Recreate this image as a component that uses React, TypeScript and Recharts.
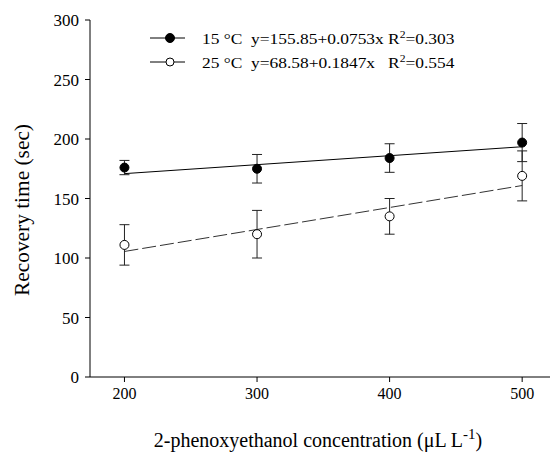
import { ComposedChart, ErrorBar, Line, Scatter, XAxis, YAxis } from "recharts";

const conc = [200, 300, 400, 500];
const rec15 = [176, 175, 184, 197];
const err15 = [6, 12, 12, 16];
const rec25 = [111, 120, 135, 169];
const err25 = [17, 20, 15, 21];
const fitX = [200, 500];
const fit15 = [170.9, 193.5];
const fit25 = [105.5, 160.9];
const yTicks = [0, 50, 100, 150, 200, 250, 300];
const xTicks = [200, 300, 400, 500];

const pts15 = conc.map((x, i) => ({ x, y: rec15[i], err: err15[i] }));
const pts25 = conc.map((x, i) => ({ x, y: rec25[i], err: err25[i] }));
const line15 = fitX.map((x, i) => ({ x, y: fit15[i] }));
const line25 = fitX.map((x, i) => ({ x, y: fit25[i] }));

const serif = "'Liberation Serif', 'Times New Roman', serif";

function Dot(props: any) {
  const { cx, cy, filled } = props;
  return <circle cx={cx} cy={cy} r={4.5} fill={filled ? "#000" : "#fff"} stroke="#000" strokeWidth={1} />;
}

function XTick(props: any) {
  const { x, y, payload } = props;
  return (
    <text x={x} y={y + 15} textAnchor="middle" style={{ fontFamily: serif, fontSize: 16 }} fill="#000">
      {payload.value}
    </text>
  );
}

function YTick(props: any) {
  const { x, y, payload } = props;
  return (
    <text x={x - 4} y={y + 6} textAnchor="end" style={{ fontFamily: serif, fontSize: 17 }} fill="#000">
      {payload.value}
    </text>
  );
}

function XTitle(props: any) {
  const { viewBox } = props;
  const cx = viewBox.x + viewBox.width / 2;
  return (
    <text x={cx - 2} y={447} textAnchor="middle" style={{ fontFamily: serif, fontSize: 20 }} fill="#000">
      2-phenoxyethanol concentration (μL L
      <tspan style={{ fontSize: 15 }} dy={-8}>-1</tspan>
      <tspan dy={8}>)</tspan>
    </text>
  );
}

function YTitle() {
  return (
    <text x={0} y={0} transform="translate(29, 210) rotate(-90)" textAnchor="middle" textLength={172} lengthAdjust="spacingAndGlyphs" style={{ fontFamily: serif, fontSize: 20 }} fill="#000">
      Recovery time (sec)
    </text>
  );
}

function LegendBox() {
  const rows = [
    { filled: true, label: "15 °C  y=155.85+0.0753x R", r2: "=0.303" },
    { filled: false, label: "25 °C  y=68.58+0.1847x   R", r2: "=0.554" }
  ];
  return (
    <div style={{ position: "absolute", left: 150, top: 26, fontFamily: serif, fontSize: 15, color: "#000" }}>
      {rows.map((row) => (
        <div key={row.label} style={{ display: "flex", alignItems: "center", height: 24 }}>
          <svg width={52} height={12}>
            <line x1={0} y1={6} x2={35} y2={6} stroke="#000" strokeWidth={1} />
            <circle cx={20} cy={6} r={row.filled ? 4.5 : 4} fill={row.filled ? "#000" : "#fff"} stroke="#000" />
          </svg>
          <span style={{ whiteSpace: "pre", display: "inline-block", transform: "scaleX(1.16)", transformOrigin: "left center" }}>
            {row.label}
            <sup style={{ fontSize: 10 }}>2</sup>
            {row.r2}
          </span>
        </div>
      ))}
    </div>
  );
}

export default function App() {
  return (
    <div style={{ position: "absolute", left: 0, top: 0, width: 556, height: 457, background: "#fff", fontFamily: serif }}>
      <ComposedChart width={556} height={457} margin={{ top: 20, right: 6, bottom: 20, left: 30 }}>
        <XAxis
          type="number"
          dataKey="x"
          domain={[174, 521]}
          ticks={xTicks}
          tickSize={5}
          height={60}
          stroke="#000"
          tick={<XTick />}
          label={<XTitle />}
        />
        <YAxis
          type="number"
          dataKey="y"
          domain={[0, 300]}
          ticks={yTicks}
          tickSize={5}
          width={60}
          stroke="#000"
          tick={<YTick />}
          label={<YTitle />}
        />
        <Line data={line15} dataKey="y" type="linear" stroke="#000" strokeWidth={1} dot={false} isAnimationActive={false} legendType="none" />
        <Line data={line25} dataKey="y" type="linear" stroke="#333" strokeWidth={1} strokeDasharray="14 4" dot={false} isAnimationActive={false} legendType="none" />
        <Scatter data={pts25} dataKey="y" shape={(p: any) => <Dot {...p} filled={false} />} isAnimationActive={false}>
          <ErrorBar dataKey="err" direction="y" width={5} stroke="#222" strokeWidth={1} />
        </Scatter>
        <Scatter data={pts15} dataKey="y" shape={(p: any) => <Dot {...p} filled />} isAnimationActive={false}>
          <ErrorBar dataKey="err" direction="y" width={5} stroke="#222" strokeWidth={1} />
        </Scatter>
      </ComposedChart>
      <LegendBox />
    </div>
  );
}
